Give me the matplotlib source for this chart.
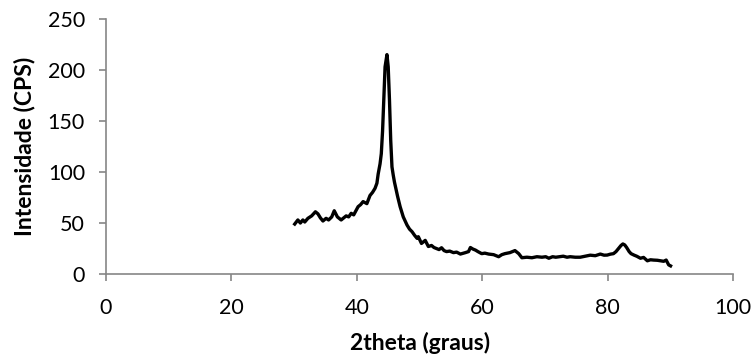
# Difratograma: intensidade vs 2theta

import matplotlib
matplotlib.use('Agg')
import matplotlib.pyplot as plt

# 2theta (graus)
two_theta = [30.1, 30.6, 31.0, 31.4, 31.7, 32.2, 32.8, 33.4, 33.8, 34.2,
             34.6, 35.1, 35.5, 36.0, 36.4, 36.9, 37.5, 37.9, 38.3, 38.7,
             39.1, 39.5, 39.9, 40.2, 40.6, 41.0, 41.3, 41.6, 42.1, 42.5,
             42.9, 43.2, 43.4, 43.7, 43.9, 44.1, 44.3, 44.5, 44.8, 45.0,
             45.2, 45.4, 45.6, 45.8, 46.0, 46.5, 46.9, 47.4, 48.0, 48.4,
             48.8, 49.2, 49.6, 49.8, 50.3, 50.9, 51.4, 51.9, 52.3, 52.7,
             53.1, 53.5, 53.9, 54.3, 54.8, 55.4, 55.9, 56.5, 57.3, 57.8,
             58.1, 58.5, 58.9, 59.3, 59.9, 60.4, 61.0, 61.8, 62.6, 63.1,
             63.6, 64.4, 65.2, 65.8, 66.3, 67.1, 67.9, 68.7, 69.5, 70.1,
             70.6, 71.2, 71.7, 72.3, 72.9, 73.5, 74.0, 74.8, 75.6, 76.4,
             77.2, 78.0, 78.8, 79.4, 79.9, 80.4, 80.9, 81.3, 81.7, 82.1,
             82.4, 82.7, 83.0, 83.4, 83.7, 84.2, 84.6, 85.2, 85.7, 86.3,
             86.8, 87.3, 87.9, 88.4, 88.9, 89.3, 89.7, 90.0]

# intensidade (CPS)
intensity = [49, 53, 50, 53, 51, 54.6, 57, 61, 59, 55,
             52, 54.6, 53, 56, 62, 56, 53, 55, 57, 56,
             59.5, 58, 62.7, 66, 68, 71, 70, 69, 77, 80,
             84, 89, 98, 108, 118, 140, 172, 203, 215, 203,
             171, 131, 105, 97, 90, 76, 66, 56, 48, 44,
             41.5, 38, 35, 36.6, 30, 33, 27, 28, 26, 25,
             24, 25.8, 23, 22, 22.5, 21, 21.5, 19.6, 21, 22,
             26, 24.5, 23.5, 22, 20, 20.5, 19.6, 19, 17, 19,
             20, 21, 23, 20, 16, 16.5, 16, 17, 16.5, 17,
             15.5, 17, 16.5, 17, 17.5, 16.5, 17, 16.5, 16.5, 17.5,
             18.5, 18, 19.6, 18.5, 18.6, 19.5, 20, 22, 25, 28,
             29.5, 28.5, 26, 22, 20, 18.5, 17.5, 15.5, 16.3, 13,
             14, 13.7, 13.5, 13, 12.5, 13.7, 9, 8]

x_ticks = [0, 20, 40, 60, 80, 100]
y_ticks = [0, 50, 100, 150, 200, 250]

plt.rcParams['font.family'] = ['Lato', 'DejaVu Sans']

fig = plt.figure(figsize=(7.56, 3.63), dpi=100)
ax = fig.add_axes([0.140, 0.245, 0.830, 0.703])

ax.plot(two_theta, intensity, color='black', linewidth=2.4)

ax.set_xlim(0, 100)
ax.set_ylim(0, 250)
ax.set_xticks(x_ticks)
ax.set_yticks(y_ticks)

# eixos cinza, sem borda superior/direita
for side in ['top', 'right']:
    ax.spines[side].set_visible(False)
for side in ['left', 'bottom']:
    ax.spines[side].set_color('#868686')
    ax.spines[side].set_linewidth(1.2)
ax.tick_params(axis='both', colors='#868686', labelcolor='black',
               labelsize=15.5, length=5, width=1.2, direction='out')
ax.tick_params(axis='x', pad=12)
ax.tick_params(axis='y', pad=10)

ax.set_xlabel('2theta (graus)', fontsize=16.5, fontweight='bold', labelpad=10)
ax.set_ylabel('Intensidade (CPS)', fontsize=16.5, fontweight='bold', labelpad=9)

plt.savefig('out.png', dpi=100)
